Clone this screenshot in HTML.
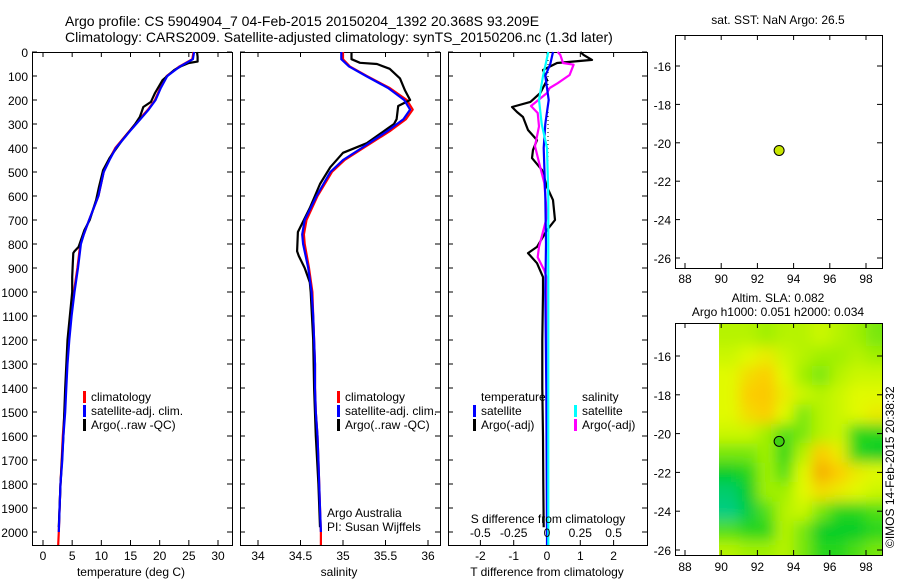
<!DOCTYPE html>
<html><head><meta charset="utf-8">
<style>
html,body{margin:0;padding:0;background:#fff;}
svg{display:block;font-family:"Liberation Sans",sans-serif;}
text{fill:#000;}
</style></head>
<body>
<svg id="fig" width="900" height="580" viewBox="0 0 900 580" xmlns="http://www.w3.org/2000/svg">
<text x="65" y="26" font-size="14">Argo profile: CS 5904904_7 04-Feb-2015 20150204_1392 20.368S 93.209E</text>
<text x="65" y="42" font-size="14">Climatology: CARS2009. Satellite-adjusted climatology: synTS_20150206.nc (1.3d later)</text>
<defs>
<filter id="blur" x="0" y="0" width="1" height="1"><feGaussianBlur stdDeviation="7"/></filter>
<clipPath id="hmclip"><rect x="719" y="323" width="163" height="232"/></clipPath>
</defs>
<g id="plots"></g>
<text font-size="12" transform="translate(894,548) rotate(-90)">©IMOS 14-Feb-2015 20:38:32</text>
</svg>
<script>
// ---------- data ----------
const depthClim = [0,30,60,100,150,200,240,280,330,400,450,500,600,700,760,800,900,1000,1100,1200,1300,1400,1500,1600,1700,1800,1900,2000,2054];
const tempClim  = [25.8,25.6,23.4,21.2,20.1,19.2,18.0,16.5,14.8,12.4,11.3,10.4,9.5,7.9,7.0,6.4,5.9,5.3,4.8,4.4,4.1,3.9,3.7,3.4,3.2,3.0,2.85,2.7,2.6];
const tempSat   = [25.9,25.7,23.5,21.3,20.2,19.3,18.1,16.7,14.9,12.5,11.4,10.4,9.5,7.9,7.0,6.5,6.0,5.4,4.9,4.5,4.2,4.0,3.8,3.5,3.3,3.0,2.85,2.7,2.6];
const salClim   = [35.0,35.0,35.08,35.28,35.55,35.75,35.82,35.74,35.55,35.24,35.02,34.87,34.70,34.57,34.54,34.55,34.60,34.64,34.65,34.66,34.67,34.67,34.68,34.70,34.71,34.72,34.73,34.74,34.74];
const salSat    = [34.98,34.98,35.07,35.27,35.53,35.72,35.79,35.71,35.52,35.22,35.0,34.85,34.69,34.55,34.52,34.53,34.59,34.63,34.65,34.66,34.67,34.67,34.68,34.70,34.71,34.72,34.73,34.74,34.74];
const depthArgo = [0,20,40,46,60,75,117,171,208,229,250,271,300,325,367,408,442,492,562,617,700,742,812,830,838,880,938,1000,1200,1400,1600,1800,1980];
const tempArgo  = [26.4,26.5,26.5,25.0,23.6,22.5,20.5,19.2,18.5,17.2,16.9,16.6,15.8,15.0,13.6,12.4,11.4,10.3,9.6,9.1,8.0,7.1,6.1,5.4,5.2,5.1,5.0,5.0,4.2,3.8,3.5,3.0,2.7];
const depthArgoS= [0,30,45,50,70,110,160,200,225,280,300,320,380,420,480,550,650,750,830,850,900,960,1000,1200,1400,1600,1800,1980];
const salArgo   = [35.1,35.1,35.2,35.4,35.55,35.67,35.73,35.79,35.65,35.63,35.6,35.52,35.28,35.0,34.85,34.73,34.61,34.47,34.46,34.48,34.55,34.61,34.62,34.65,34.66,34.68,34.71,34.73];
const dDepthT   = [0,12,33,46,75,117,171,208,229,250,271,325,367,408,442,492,562,617,700,742,812,838,880,938,1000,1200,1400,1600,1800,1980];
const dTempArgo = [1.0,1.1,1.35,0.3,-0.12,0,-0.2,-0.5,-1.05,-0.9,-0.72,-0.57,-0.3,-0.42,-0.45,-0.15,0,0.18,0.24,0,-0.3,-0.57,-0.3,-0.12,-0.12,-0.14,-0.14,-0.12,-0.11,-0.1];
const dDepthS   = [0,12,46,53,96,130,150,171,225,254,310,392,460,546,685,770,812,855,910,945,1200,1500,1800,1980];
const dSalArgo  = [0.08,0.1,0.12,0.2,0.17,0.08,0.02,0,-0.12,-0.07,-0.06,-0.09,-0.06,-0.02,0,-0.04,-0.06,-0.07,-0.02,0,0,0,0,0];
const dDepthSat = [0,50,100,200,300,400,600,800,1000,1400,2000,2054];
const dTempSat  = [0.18,0.1,-0.05,0.05,-0.05,-0.1,-0.05,-0.03,-0.05,-0.02,0,0];
const dSalSat   = [0.01,-0.01,-0.03,-0.06,-0.04,0,0.01,0.01,0.01,0.01,0.01,0.01];
const slaLat = [-15.0,-16.0,-17.0,-18.0,-19.0,-20.0,-21.0,-22.0,-23.0,-24.0,-25.0,-26.0];
const slaLon = [90.5,91.5,92.5,93.5,94.5,95.5,96.5,97.5,98.5];
const slaGrid = [
 [.55,.55,.5,.55,.55,.6,.55,.5,.45],
 [.6,.65,.7,.6,.55,.5,.5,.55,.5],
 [.65,.75,.8,.65,.5,.45,.55,.6,.6],
 [.65,.8,.82,.7,.6,.55,.6,.65,.65],
 [.65,.75,.8,.65,.45,.55,.6,.65,.7],
 [.6,.6,.5,.4,.45,.55,.6,.35,.35],
 [.45,.45,.5,.35,.55,.8,.7,.35,.3],
 [.3,.35,.5,.4,.65,.9,.8,.7,.65],
 [.15,.3,.5,.5,.65,.75,.7,.65,.6],
 [.1,.25,.4,.55,.6,.45,.35,.35,.4],
 [.4,.35,.35,.55,.45,.3,.3,.3,.35],
 [.55,.5,.5,.55,.45,.35,.35,.4,.45]];
const argoPos = [93.2,-20.4];
const tTicks=[0,5,10,15,20,25,30], sTicks=[34,34.5,35,35.5,36], dTicks=[-2,-1,0,1,2], sdTicks=[-0.5,-0.25,0,0.25,0.5];
const lonTicks=[88,90,92,94,96,98], latTicks=[-16,-18,-20,-22,-24,-26];

// ---------- helpers ----------
const NS="http://www.w3.org/2000/svg";
const root=document.getElementById('plots');
function mk(tag,attrs,parent){const e=document.createElementNS(NS,tag);for(const k in attrs)e.setAttribute(k,attrs[k]);(parent||root).appendChild(e);return e;}
const top0=52,bot0=545;
const yD=d=>top0+d*0.24;
function lin(d0,d1,r0,r1){return v=>r0+(v-d0)*(r1-r0)/(d1-d0);}
function line(xs,ys,fx,fy,color,name,w){
  const pts=xs.map((v,i)=>fx(v).toFixed(1)+','+fy(ys[i]).toFixed(1)).join(' ');
  const p=mk('polyline',{points:pts,fill:'none',stroke:color,'stroke-width':w||2.2,'stroke-linejoin':'round'});
  
  
  return p;
}
function frame(x0,x1,y0,y1,name){
  const r=mk('rect',{x:x0+0.5,y:y0+0.5,width:x1-x0,height:y1-y0,fill:'none',stroke:'#000','stroke-width':1});
  
  
}
function xticks(ticks,fx,y0,y1,labels,ly,name){
  ticks.forEach((t,i)=>{
    const x=fx(t);
    mk('line',{x1:x,x2:x,y1:y1,y2:y1-5,stroke:'#000'});
    mk('line',{x1:x,x2:x,y1:y0,y2:y0+5,stroke:'#000'});
    if(labels){const tx=mk('text',{x:x,y:ly,'font-size':12,'text-anchor':'middle'});tx.textContent=labels[i];
      
      }
  });
}
function yticks(x0,x1){
  for(let d=0;d<=2000;d+=100){const y=yD(d);
    mk('line',{x1:x0,x2:x0+5,y1:y,y2:y,stroke:'#000'});
    mk('line',{x1:x1,x2:x1-5,y1:y,y2:y,stroke:'#000'});
  }
}
function label(x,y,txt,name,anchor,size){const t=mk('text',{x:x,y:y,'font-size':size||12,'text-anchor':anchor||'start'});t.textContent=txt;
  
  return t;}
function legend(x,y,color,txt,name){
  mk('rect',{x:x,y:y-10,width:3,height:12,fill:color});
  label(x+8,y,txt,name);
}

// ---------- panel 1: temperature ----------
const fT=lin(0,30,43,218);
for(let d=0;d<=2000;d+=100){label(28,yD(d)+5,String(d),'depth-tick-label','end');}
frame(32,232,top0,bot0,'temperature-axes');
yticks(32,232);
xticks(tTicks,fT,top0,bot0,tTicks,560,'temperature');
line(tempClim,depthClim,fT,yD,'#f00','temperature-climatology-line');
line(tempArgo,depthArgo,fT,yD,'#000','temperature-argo-line');
line(tempSat,depthClim.slice(0,28),fT,yD,'#00f','temperature-satellite-line');
label(131,576,'temperature (deg C)','temperature-axis-title','middle');
legend(83,401,'#f00','climatology','temp-legend-climatology');
legend(83,415,'#00f','satellite-adj. clim.','temp-legend-satellite');
legend(83,429,'#000','Argo(..raw -QC)','temp-legend-argo');

// ---------- panel 2: salinity ----------
const fS=lin(34,36,258,428);
frame(240,440,top0,bot0,'salinity-axes');
yticks(240,440);
xticks(sTicks,fS,top0,bot0,sTicks,560,'salinity');
line(salClim,depthClim,fS,yD,'#f00','salinity-climatology-line');
line(salArgo,depthArgoS,fS,yD,'#000','salinity-argo-line');
line(salSat,depthClim.slice(0,28),fS,yD,'#00f','salinity-satellite-line');
label(339,576,'salinity','salinity-axis-title','middle');
legend(337,401,'#f00','climatology','sal-legend-climatology');
legend(337,415,'#00f','satellite-adj. clim.','sal-legend-satellite');
legend(337,429,'#000','Argo(..raw -QC)','sal-legend-argo');
label(327,517,'Argo Australia','argo-australia-label');
label(327,531,'PI: Susan Wijffels','pi-label');

// ---------- panel 3: differences ----------
const fDT=lin(0,1,547,580.3), fDS=lin(0,0.25,547,580.3);
frame(448,647,top0,bot0,'difference-axes');
yticks(448,647);
xticks(dTicks,fDT,top0,bot0,dTicks,560,'t-difference');
mk('line',{x1:548,x2:548,y1:top0,y2:bot0,stroke:'#000','stroke-dasharray':'1,3'});
line(dTempArgo,dDepthT,fDT,yD,'#000','t-difference-argo-line');
line(dSalArgo,dDepthS,fDS,yD,'#f0f','s-difference-argo-line');
line(dTempSat,dDepthSat,fDT,yD,'#00f','t-difference-satellite-line');
line(dSalSat,dDepthSat,fDS,yD,'#0ff','s-difference-satellite-line');
label(548,523,'S difference from climatology','s-difference-axis-title','middle');
sdTicks.forEach(v=>label(fDS(v),537,String(v),'s-difference-tick-label','middle'));
label(547,576,'T difference from climatology','t-difference-axis-title','middle');
label(481,401,'temperature','diff-legend-temperature');
label(582,401,'salinity','diff-legend-salinity');
legend(473,415,'#00f','satellite','diff-legend-t-satellite');
legend(473,429,'#000','Argo(-adj)','diff-legend-t-argo');
legend(574,415,'#0ff','satellite','diff-legend-s-satellite');
legend(574,429,'#f0f','Argo(-adj)','diff-legend-s-argo');

// ---------- map 1 ----------
const fLon=lin(88,98,685,866);
const fLat1=lin(-16,-26,66,258);
frame(675,882,35,268,'sst-map-axes');
xticks(lonTicks,fLon,35,268,lonTicks,283,'sst-lon');
latTicks.forEach(l=>{const y=fLat1(l);mk('line',{x1:675,x2:680,y1:y,y2:y,stroke:'#000'});mk('line',{x1:882,x2:877,y1:y,y2:y,stroke:'#000'});label(671,y+5,String(l),'sst-lat-tick-label','end');});
label(778,24,'sat. SST: NaN Argo: 26.5','sst-map-title','middle');
const d1=mk('circle',{cx:fLon(argoPos[0]),cy:fLat1(argoPos[1]),r:5,fill:'#c8e600',stroke:'#000'});



// ---------- map 2: SLA ----------
const fLat2=lin(-16,-26,356,550);
function cmap(v){const st=[[0,[0,205,175]],[0.3,[0,205,40]],[0.5,[160,240,0]],[0.65,[225,250,0]],[0.8,[252,205,0]],[1,[238,140,0]]];
  for(let i=1;i<st.length;i++){if(v<=st[i][0]){const a=st[i-1],b=st[i],f=(v-a[0])/(b[0]-a[0]);
    return 'rgb('+a[1].map((c,k)=>Math.round(c+f*(b[1][k]-c))).join(',')+')';}}return 'rgb(238,140,0)';}
const hg=mk('g',{'clip-path':'url(#hmclip)'});
const hb=mk('g',{filter:'url(#blur)'},hg);


slaGrid.forEach((row,i)=>row.forEach((v,j)=>{
  const x=fLon(slaLon[j]-0.5)-(j===0?20:0), y=fLat2(slaLat[i]+0.5)-(i===0?20:0);
  const w=fLon(1)-fLon(0)+(j===0?20:0)+(j===row.length-1?20:1);
  const h=fLat2(-1)-fLat2(0)+(i===0?20:0)+(i===slaGrid.length-1?20:1);
  const r=mk('rect',{x:x,y:y,width:w,height:h,fill:cmap(v)},hb);
  
  
}));
frame(675,882,323,555,'sla-map-axes');
xticks(lonTicks,fLon,323,555,lonTicks,571,'sla-lon');
latTicks.forEach(l=>{const y=fLat2(l);mk('line',{x1:675,x2:680,y1:y,y2:y,stroke:'#000'});mk('line',{x1:882,x2:877,y1:y,y2:y,stroke:'#000'});label(671,y+5,String(l),'sla-lat-tick-label','end');});
label(778,302,'Altim. SLA: 0.082','sla-map-title','middle');
label(778,316,'Argo h1000: 0.051 h2000: 0.034','sla-map-subtitle','middle');
const d2=mk('circle',{cx:fLon(argoPos[0]),cy:fLat2(argoPos[1]),r:5,fill:'#40d010',stroke:'#000'});


</script>
</body></html>
